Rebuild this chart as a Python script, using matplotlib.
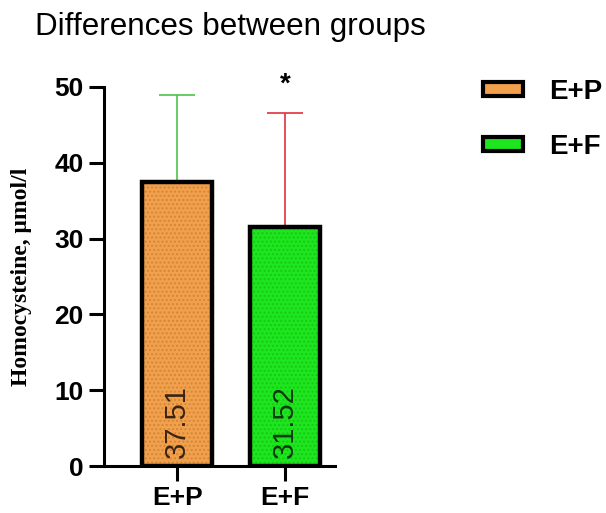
import numpy as np
import matplotlib.pyplot as plt
from matplotlib.patches import Patch

plt.rcParams['font.family'] = ['Liberation Sans', 'DejaVu Sans']

groups = ['E+P', 'E+F']
means = [37.51, 31.52]
err_up = [11.4, 15.1]
colors = ['#F2A04C', '#1EE61E']
hatch_colors = ['#D08838', '#18C818']
err_colors = ['#4CC44C', '#E0303C']
labels = ['37.51', '31.52']
label_colors = ['#3a2410', '#0c3a0c']

fig = plt.figure(figsize=(6.06, 5.13), dpi=100)
ax = fig.add_axes([0.1716, 0.0916, 0.381, 0.739])

x = np.arange(len(groups))
plt.rcParams['hatch.linewidth'] = 1.0
for i in range(len(groups)):
    # fill with fine dot pattern, then black outline on top
    ax.bar(x[i], means[i], width=0.65, color=colors[i], edgecolor=hatch_colors[i],
           linewidth=0, hatch='....', zorder=2)
    ax.bar(x[i], means[i], width=0.65, fill=False, edgecolor='black',
           linewidth=3.2, zorder=3)
    ax.errorbar(x[i], means[i], yerr=[[0], [err_up[i]]], fmt='none',
                ecolor=err_colors[i], elinewidth=1.2, capsize=13, capthick=1.2, zorder=1)
    ax.text(x[i], 1.0, labels[i], rotation=90, ha='center', va='bottom',
            fontsize=21, color=label_colors[i], zorder=4)

ax.text(1, 50.3, '*', ha='center', va='center', fontsize=20, fontweight='bold')

ax.set_xlim(-0.68, 1.46)
ax.set_ylim(0, 50)
ax.set_yticks([0, 10, 20, 30, 40, 50])
ax.set_xticks(x)
ax.set_xticklabels(groups)
for lab in ax.get_xticklabels() + ax.get_yticklabels():
    lab.set_fontweight('bold')
    lab.set_fontsize(19)
ax.tick_params(width=2.2, length=11, pad=3.5)
ax.spines['top'].set_visible(False)
ax.spines['right'].set_visible(False)
ax.spines['left'].set_linewidth(2.2)
ax.spines['bottom'].set_linewidth(2.2)
ax.set_ylabel('Homocysteine, μmol/l', fontsize=17, fontweight='bold',
              family='Liberation Serif')
ax.yaxis.set_label_coords(-0.31, 0.5)

fig.text(35 / 606, 1 - 35 / 513, 'Differences between groups', fontsize=22.6,
         va='baseline')

handles = [Patch(facecolor=c, edgecolor='black', linewidth=3) for c in colors]
fig.legend(handles, groups, loc='upper left', bbox_to_anchor=(483 / 606, 1 - 79 / 513),
           frameon=False, prop={'weight': 'bold', 'size': 20}, borderpad=0,
           borderaxespad=0, handlelength=1.44, handleheight=0.42,
           labelspacing=1.05, handletextpad=0.95)

fig.savefig('out.png', dpi=100)
